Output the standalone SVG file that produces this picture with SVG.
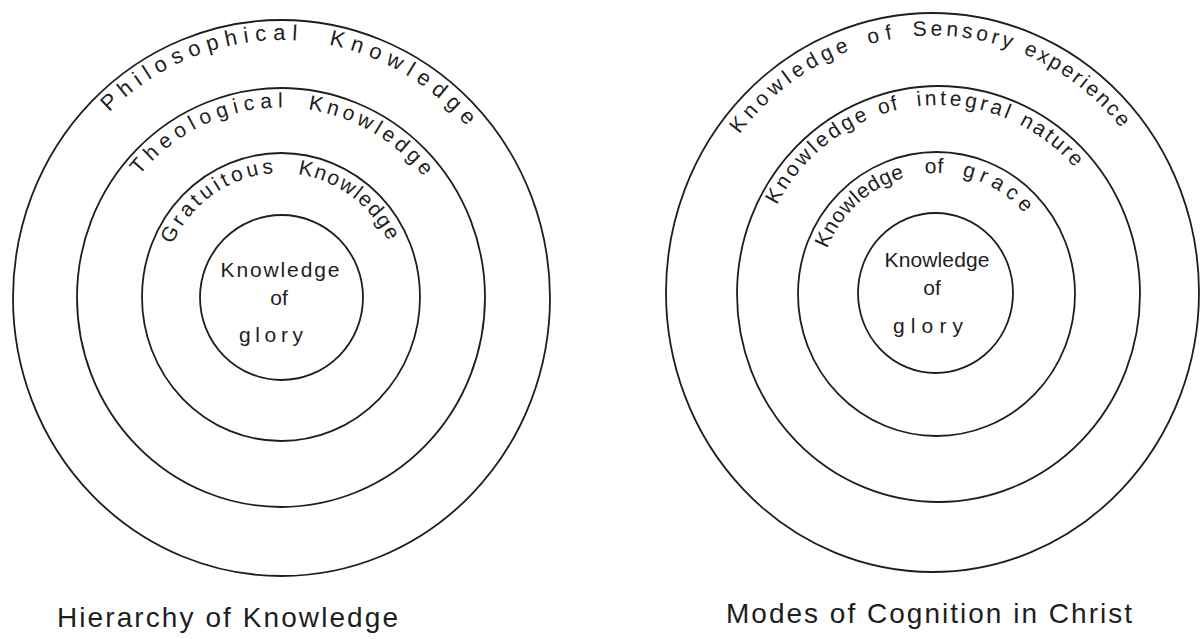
<svg xmlns="http://www.w3.org/2000/svg" width="1201" height="639" viewBox="0 0 1201 639">
<style>
.ring{fill:none;stroke:#1e1e1e;stroke-width:1.8}
.t{font-family:"Liberation Sans","DejaVu Sans",sans-serif;fill:#1e1e1e}
.arc{font-size:21px}
.big{font-size:22px}
.in{font-size:21px;text-anchor:middle}
.title{font-size:28px}
</style>
<defs>
<path id="l1a" d="M109.2,112.4 A248,258 0 0,1 294.5,40.4"/>
<path id="l1b" d="M328.8,44.7 A248,258 0 0,1 465.8,125.4"/>
<path id="l2a" d="M139.3,175.4 A185,190 0 0,1 281,107.5"/>
<path id="l2b" d="M308,109.5 A185,190 0 0,1 422.7,175.4"/>
<path id="l3a" d="M172.2,244.6 A120,124 0 0,1 272.6,173.3"/>
<path id="l3b" d="M297.7,174.2 A120,124 0 0,1 387.9,240.7"/>
<path id="r1a" d="M739.4,134.3 A245,257 0 0,1 848.7,51"/>
<path id="r1b" d="M869.1,44.3 A245,257 0 0,1 894.2,38.7"/>
<path id="r1c" d="M912.9,36.3 A245,257 0 0,1 1008.2,48.1"/>
<path id="r1d" d="M1023.1,53.7 A245,257 0 0,1 1120.2,127.3"/>
<path id="r2a" d="M776.9,205.3 A183,189 0 0,1 868.2,119.5"/>
<path id="r2b" d="M880.1,114.9 A183,189 0 0,1 898,109.7"/>
<path id="r2c" d="M917.2,106.3 A183,189 0 0,1 1006.2,118.4"/>
<path id="r2d" d="M1019,124.3 A183,189 0 0,1 1074.5,167.5"/>
<path id="r3a" d="M827.1,248.7 A118,121 0 0,1 905,177.4"/>
<path id="r3b" d="M925,173.6 A118,121 0 0,1 943.1,173.2"/>
<path id="r3c" d="M962,175.9 A118,121 0 0,1 1024.2,213"/>
</defs>
<rect width="1201" height="639" fill="#ffffff"/>

<g id="hierarchy">
  <g id="philosophical">
    <ellipse class="ring" cx="281.5" cy="298" rx="268.5" ry="278"/>
    <text class="t big"><textPath href="#l1a" textLength="207" lengthAdjust="spacing">Philosophical</textPath></text>
    <text class="t big"><textPath href="#l1b" textLength="163" lengthAdjust="spacing">Knowledge</textPath></text>
  </g>
  <g id="theological">
    <ellipse class="ring" cx="281" cy="297.5" rx="204" ry="209.5"/>
    <text class="t arc"><textPath href="#l2a" textLength="164" lengthAdjust="spacing">Theological</textPath></text>
    <text class="t arc"><textPath href="#l2b" textLength="137" lengthAdjust="spacing">Knowledge</textPath></text>
  </g>
  <g id="gratuitous">
    <ellipse class="ring" cx="281" cy="297" rx="139" ry="144"/>
    <text class="t arc"><textPath href="#l3a" textLength="130" lengthAdjust="spacing">Gratuitous</textPath></text>
    <text class="t arc"><textPath href="#l3b" textLength="117" lengthAdjust="spacing">Knowledge</textPath></text>
  </g>
  <g id="glory-left">
    <ellipse class="ring" cx="281.5" cy="297.5" rx="81.5" ry="82.5"/>
    <text class="t in" x="280" y="277" textLength="119" lengthAdjust="spacing">Knowledge</text>
    <text class="t in" x="279" y="305">of</text>
    <text class="t in" x="271" y="342" textLength="64" lengthAdjust="spacing">glory</text>
  </g>
  <text id="title-left" class="t title" x="57" y="627" textLength="341" lengthAdjust="spacing">Hierarchy of Knowledge</text>
</g>

<g id="modes">
  <g id="sensory">
    <ellipse class="ring" cx="932.5" cy="292.5" rx="266.5" ry="279.5"/>
    <text class="t arc"><textPath href="#r1a" textLength="140" lengthAdjust="spacing">Knowledge</textPath></text>
    <text class="t arc"><textPath href="#r1b" textLength="24" lengthAdjust="spacing">of</textPath></text>
    <text class="t arc"><textPath href="#r1c" textLength="99" lengthAdjust="spacing">Sensory</textPath></text>
    <text class="t arc"><textPath href="#r1d" textLength="124" lengthAdjust="spacing">experience</textPath></text>
  </g>
  <g id="integral">
    <ellipse class="ring" cx="938.5" cy="294" rx="201.5" ry="208"/>
    <text class="t arc"><textPath href="#r2a" textLength="128" lengthAdjust="spacing">Knowledge</textPath></text>
    <text class="t arc"><textPath href="#r2b" textLength="19" lengthAdjust="spacing">of</textPath></text>
    <text class="t arc"><textPath href="#r2c" textLength="92" lengthAdjust="spacing">integral</textPath></text>
    <text class="t arc"><textPath href="#r2d" textLength="71" lengthAdjust="spacing">nature</textPath></text>
  </g>
  <g id="grace">
    <ellipse class="ring" cx="936.5" cy="294" rx="138.5" ry="142"/>
    <text class="t arc"><textPath href="#r3a" textLength="109" lengthAdjust="spacing">Knowledge</textPath></text>
    <text class="t arc"><textPath href="#r3b" textLength="18" lengthAdjust="spacing">of</textPath></text>
    <text class="t arc"><textPath href="#r3c" textLength="74" lengthAdjust="spacing">grace</textPath></text>
  </g>
  <g id="glory-right">
    <ellipse class="ring" cx="935.5" cy="293" rx="77.5" ry="80"/>
    <text class="t in" x="937" y="267" textLength="105" lengthAdjust="spacing">Knowledge</text>
    <text class="t in" x="932" y="295">of</text>
    <text class="t in" x="928" y="333" textLength="70" lengthAdjust="spacing">glory</text>
  </g>
  <text id="title-right" class="t title" x="726" y="623" textLength="406" lengthAdjust="spacing">Modes of Cognition in Christ</text>
</g>
</svg>
